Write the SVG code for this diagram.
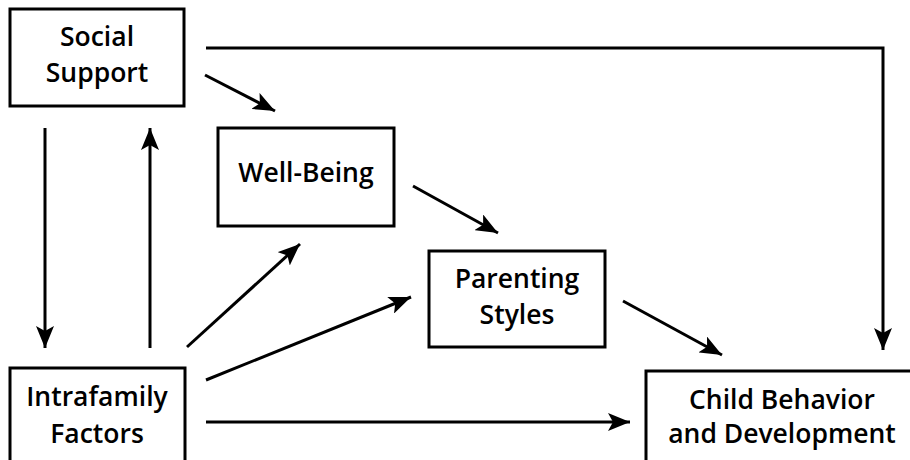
<svg xmlns="http://www.w3.org/2000/svg" width="910" height="460" viewBox="0 0 910 460">
<style>
.box{fill:#fff;stroke:#000;stroke-width:3}
.lbl{font-family:"Open Sans","Liberation Sans",sans-serif;font-weight:600;font-size:26.5px;fill:#000;text-anchor:middle}
.c{fill:none;stroke:#000;stroke-width:3}
</style>
<defs>
<marker id="ah" markerUnits="userSpaceOnUse" markerWidth="24" markerHeight="18" refX="22" refY="9" orient="auto">
<path d="M0,0 L22,9 L0,18 L5,9 Z" fill="#000"/>
</marker>
</defs>
<rect width="910" height="460" fill="#fff"/>
<g id="connectors">
<path class="c" d="M206,48 H883 V350" marker-end="url(#ah)"/>
<line class="c" x1="205" y1="75" x2="275" y2="111" marker-end="url(#ah)"/>
<line class="c" x1="45" y1="128" x2="45" y2="348" marker-end="url(#ah)"/>
<line class="c" x1="150" y1="348" x2="150" y2="128" marker-end="url(#ah)"/>
<line class="c" x1="187" y1="347" x2="300" y2="244" marker-end="url(#ah)"/>
<line class="c" x1="206" y1="380" x2="411" y2="297" marker-end="url(#ah)"/>
<line class="c" x1="413" y1="186" x2="498" y2="233" marker-end="url(#ah)"/>
<line class="c" x1="623" y1="301" x2="722" y2="355" marker-end="url(#ah)"/>
<line class="c" x1="206" y1="422" x2="630" y2="422" marker-end="url(#ah)"/>
</g>
<g id="social-support">
<rect class="box" x="10" y="9" width="174" height="97"/>
<text class="lbl" x="97" y="46">Social</text>
<text class="lbl" x="97" y="82">Support</text>
</g>
<g id="well-being">
<rect class="box" x="218" y="128" width="176" height="98"/>
<text class="lbl" x="306" y="182">Well-Being</text>
</g>
<g id="parenting-styles">
<rect class="box" x="429" y="251" width="176" height="96"/>
<text class="lbl" x="517" y="288">Parenting</text>
<text class="lbl" x="517" y="324">Styles</text>
</g>
<g id="intrafamily-factors">
<rect class="box" x="10" y="368" width="175" height="100"/>
<text class="lbl" x="97" y="406">Intrafamily</text>
<text class="lbl" x="97" y="443">Factors</text>
</g>
<g id="child-behavior">
<rect class="box" x="646" y="371" width="270" height="100"/>
<text class="lbl" x="782" y="409">Child Behavior</text>
<text class="lbl" x="782" y="443">and Development</text>
</g>
</svg>
